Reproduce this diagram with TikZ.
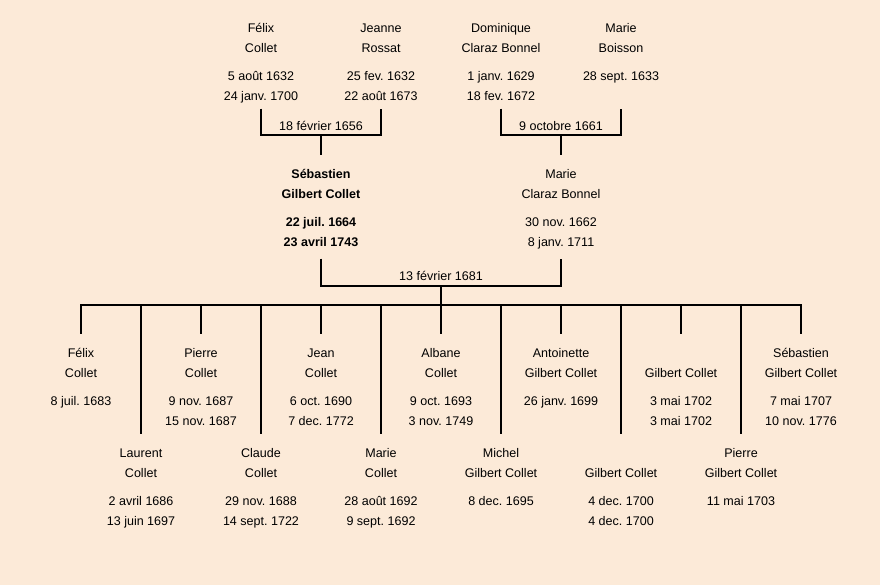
\documentclass[tikz,border=0pt]{standalone}
\usepackage{fontspec}
\setmainfont{Liberation Sans}
\usetikzlibrary{positioning, calc}
\definecolor{linen}{RGB}{252,234,216}
\frenchspacing

\newcommand{\who}[4]{\strut#1\\\strut#2\\[6pt]\strut#3\\\strut#4}

\begin{document}
\begin{tikzpicture}[x=0.75pt, y=-0.75pt]
        \tikzstyle{person} = [align=center, inner xsep=0pt, inner ysep=1.5pt, anchor=north, font=\fontsize{9.4}{15}\selectfont]
        \tikzstyle{wed} = [anchor=base, inner sep=0pt, font=\fontsize{9.4}{15}\selectfont]
        \tikzstyle{tie} = [draw=black, line width=1.8pt]
        \tikzstyle{drop} = [shorten >=5.5pt]

        \fill[linen] (0,0) rectangle (880,585);

        % grandparents
        \node[person] (felix) at (261,16){\who{Félix}{Collet}{5 août 1632}{24 janv. 1700}};
        \node[person] (jeanne) at (381,16){\who{Jeanne}{Rossat}{25 fev. 1632}{22 août 1673}};
        \node[person] (dominique) at (501,16){\who{Dominique}{Claraz Bonnel}{1 janv. 1629}{18 fev. 1672}};
        \node[person] (boisson) at (621,16){\who{Marie}{Boisson}{28 sept. 1633}{}};

        \coordinate (m1) at (321,135);
        \coordinate (m2) at (561,135);
        \node[wed] (w1) at (321,130){18 février 1656};
        \node[wed] (w2) at (561,130){9 octobre 1661};

        % parents
        \node[person, font=\fontsize{9.4}{15}\selectfont\bfseries] (sebastien) at (321,162){\who{Sébastien}{Gilbert Collet}{22 juil. 1664}{23 avril 1743}};
        \node[person] (marie) at (561,162){\who{Marie}{Claraz Bonnel}{30 nov. 1662}{8 janv. 1711}};

        \draw[tie] (felix.south) |- (m1) -| (jeanne.south);
        \draw[tie] (dominique.south) |- (m2) -| (boisson.south);
        \draw[tie, drop] (m1) -- (sebastien.north);
        \draw[tie, drop] (m2) -- (marie.north);

        \coordinate (m3) at (441,286);
        \coordinate (bus) at (441,305);
        \node[wed] (w3) at (441,280){13 février 1681};
        \draw[tie, shorten <=3pt, shorten >=3pt] (sebastien.south) |- (m3) -| (marie.south);
        \draw[tie] (m3) -- (bus);

        % children
        \node[person] (c1) at (81,341){\who{Félix}{Collet}{8 juil. 1683}{}};
        \node[person] (c2) at (141,441){\who{Laurent}{Collet}{2 avril 1686}{13 juin 1697}};
        \node[person] (c3) at (201,341){\who{Pierre}{Collet}{9 nov. 1687}{15 nov. 1687}};
        \node[person] (c4) at (261,441){\who{Claude}{Collet}{29 nov. 1688}{14 sept. 1722}};
        \node[person] (c5) at (321,341){\who{Jean}{Collet}{6 oct. 1690}{7 dec. 1772}};
        \node[person] (c6) at (381,441){\who{Marie}{Collet}{28 août 1692}{9 sept. 1692}};
        \node[person] (c7) at (441,341){\who{Albane}{Collet}{9 oct. 1693}{3 nov. 1749}};
        \node[person] (c8) at (501,441){\who{Michel}{Gilbert Collet}{8 dec. 1695}{}};
        \node[person] (c9) at (561,341){\who{Antoinette}{Gilbert Collet}{26 janv. 1699}{}};
        \node[person] (c10) at (621,441){\who{}{Gilbert Collet}{4 dec. 1700}{4 dec. 1700}};
        \node[person] (c11) at (681,341){\who{}{Gilbert Collet}{3 mai 1702}{3 mai 1702}};
        \node[person] (c12) at (741,441){\who{Pierre}{Gilbert Collet}{11 mai 1703}{}};
        \node[person] (c13) at (801,341){\who{Sébastien}{Gilbert Collet}{7 mai 1707}{10 nov. 1776}};

        \draw[tie, line cap=rect] (c1.north |- bus) -- (c13.north |- bus);
        \foreach \c in {1,...,13}
            \draw[tie, drop] (c\c.north |- bus) -- (c\c.north);

\end{tikzpicture}
\end{document}
